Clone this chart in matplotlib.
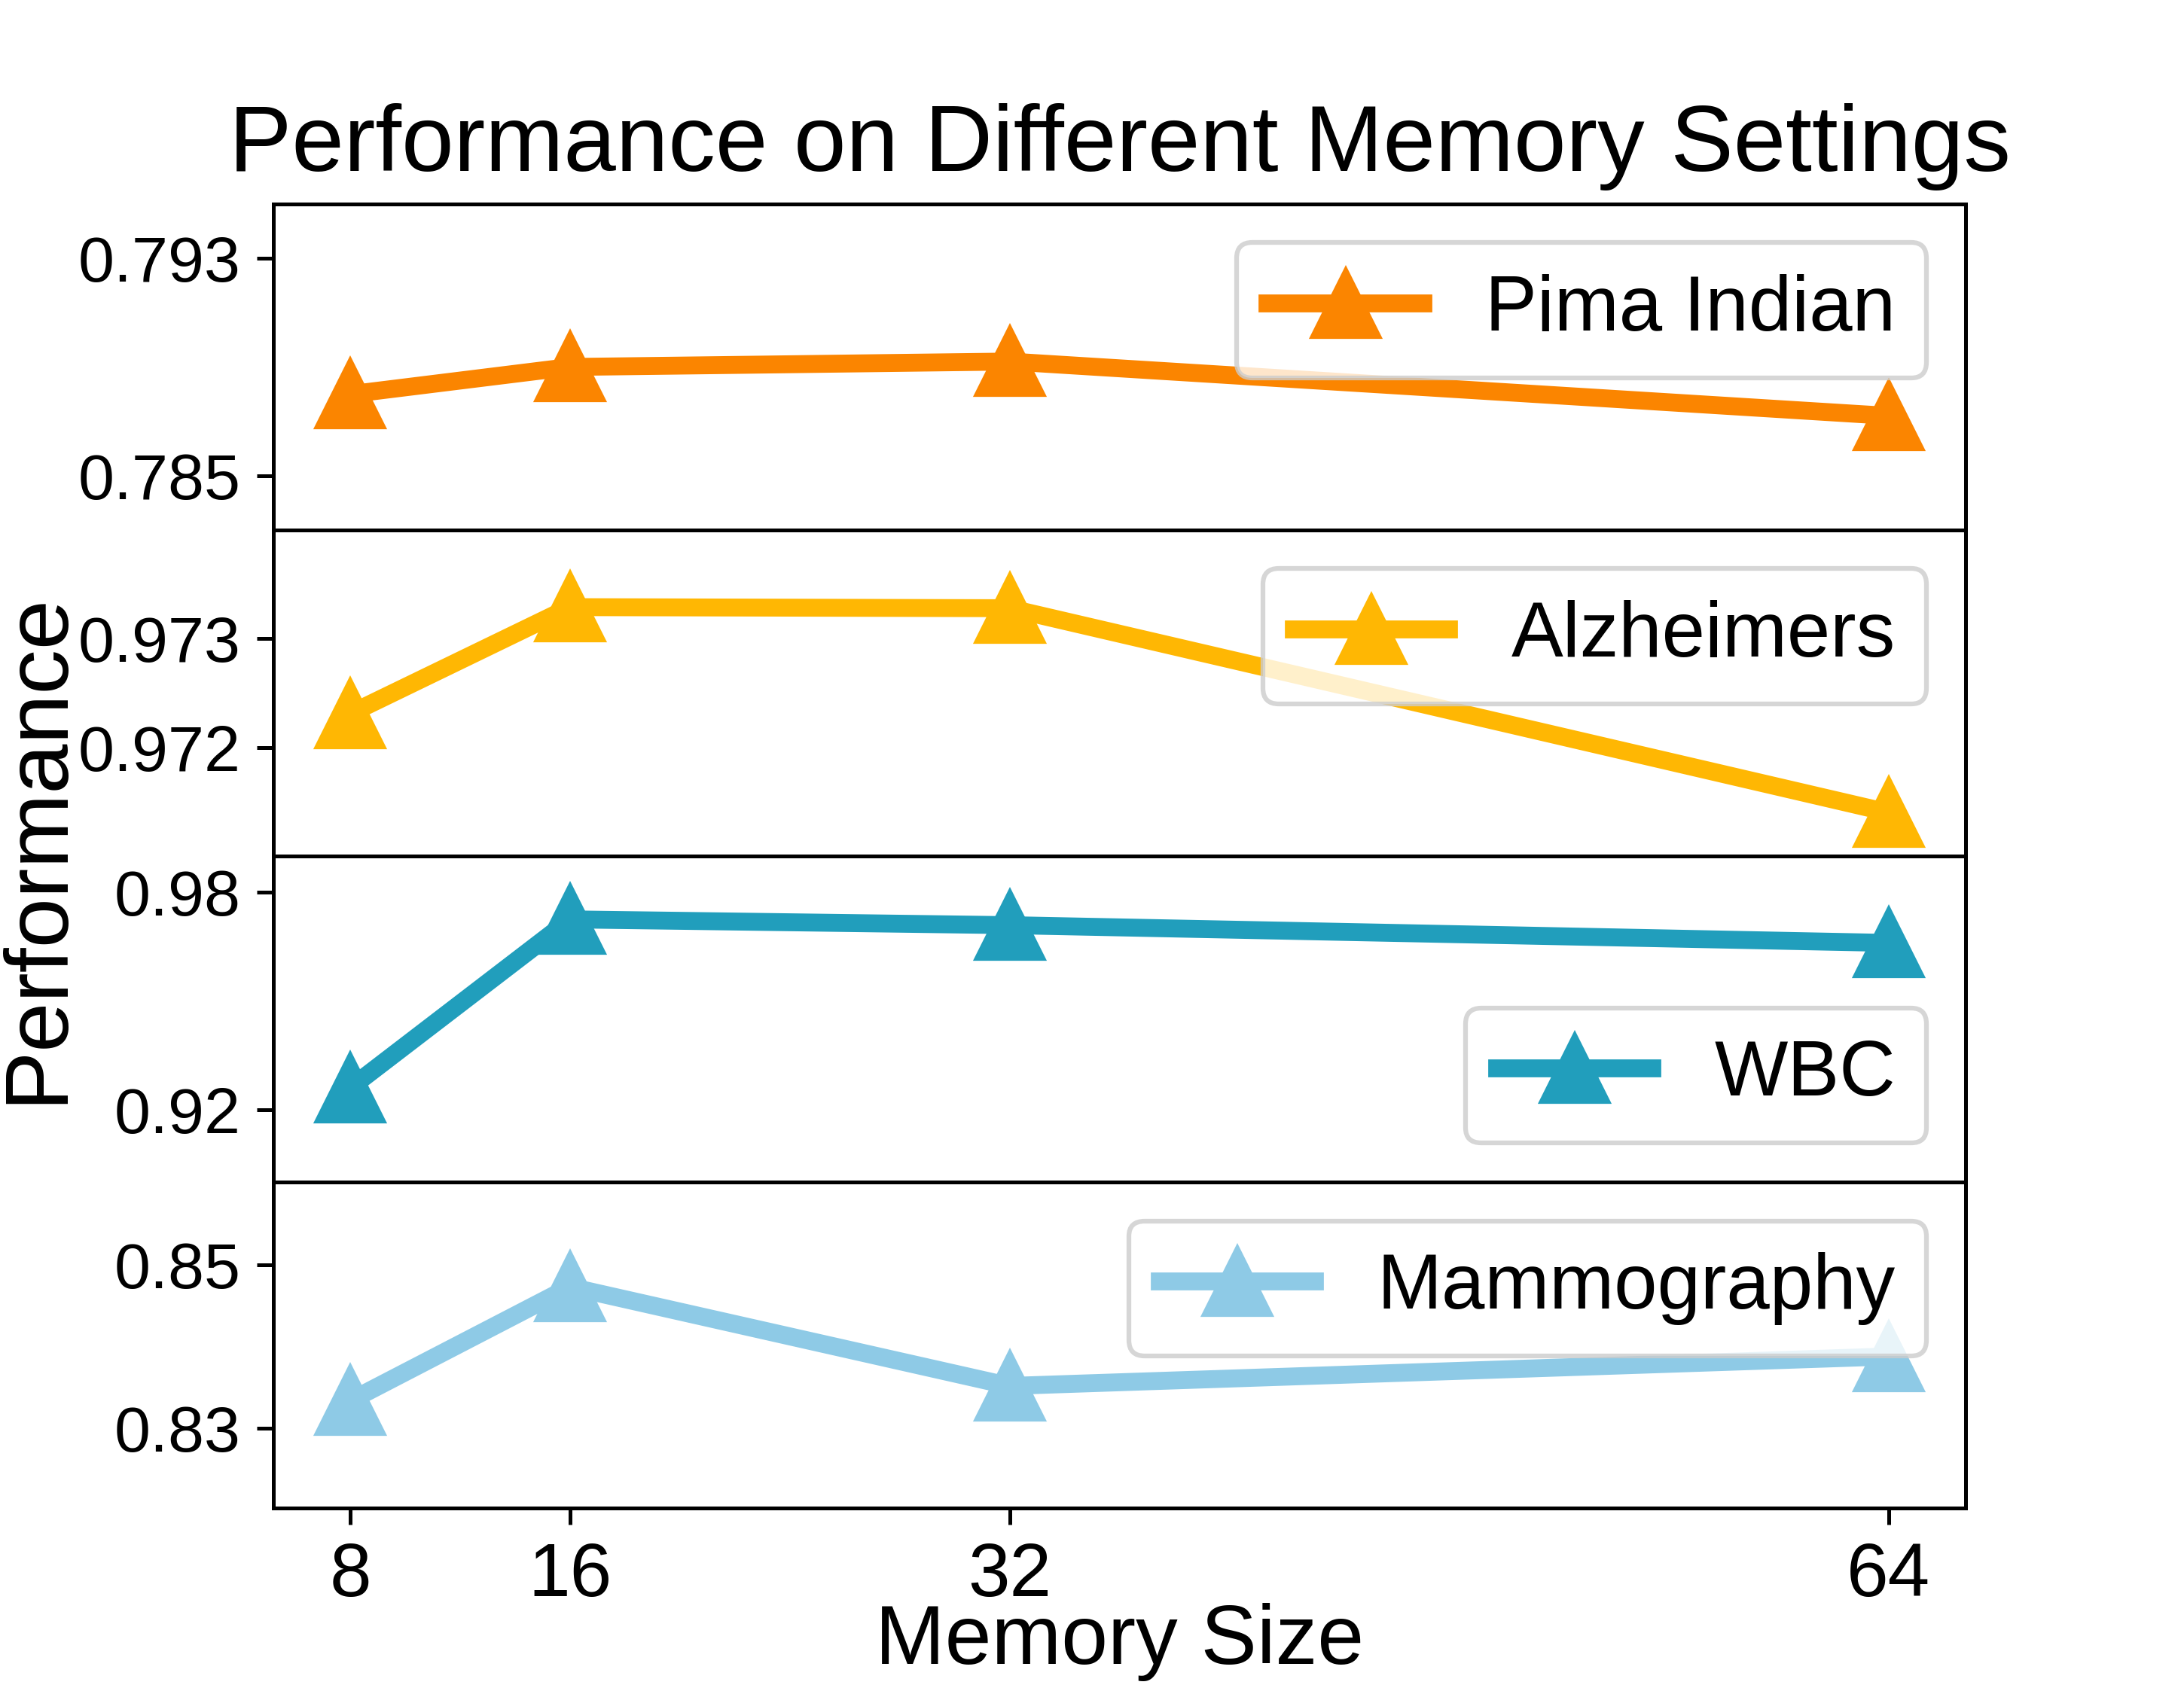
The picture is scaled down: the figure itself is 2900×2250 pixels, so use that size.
import matplotlib
matplotlib.use('Agg')
import matplotlib.pyplot as plt

plt.rcParams['font.family'] = ['Liberation Sans', 'DejaVu Sans']

memory = [8, 16, 32, 64]

datasets = ['Pima Indian', 'Alzheimers', 'WBC', 'Mammography']
pima = [0.7880, 0.7890, 0.7892, 0.7872]
alzheimers = [0.97231, 0.97329, 0.97328, 0.97140]
wbc = [0.9260, 0.9725, 0.9709, 0.9660]
mammography = [0.8334, 0.8473, 0.8352, 0.8388]

ylims = [(0.783, 0.795), (0.971, 0.974), (0.90, 0.99), (0.8203, 0.8601)]
yticks = [[0.785, 0.793], [0.972, 0.973], [0.92, 0.98], [0.83, 0.85]]
yticklabels = [['0.785', '0.793'], ['0.972', '0.973'], ['0.92', '0.98'], ['0.83', '0.85']]
colors = ['#fb8500', '#ffb703', '#219ebc', '#8ecae6']
legend_locs = ['upper right', 'upper right', 'lower right', 'upper right']

fig, axes = plt.subplots(4, 1, sharex=True, figsize=(2900/450, 2250/450), dpi=450)
fig.subplots_adjust(left=0.1252, right=0.900, top=0.8796, bottom=0.1098, hspace=0)

series = [pima, alzheimers, wbc, mammography]
for ax, name, vals, c, lim, ticks, labels, loc in zip(axes, datasets, series, colors,
                                                      ylims, yticks, yticklabels, legend_locs):
    ax.plot(memory, vals, color=c, marker='^', markersize=14, linewidth=3.8, label=name)
    ax.set_ylim(lim)
    ax.set_yticks(ticks)
    ax.set_yticklabels(labels)
    ax.tick_params(axis='y', labelsize=13.8)
    ax.legend(loc=loc, fontsize=16.5)

axes[-1].set_xticks(memory)
axes[-1].set_xticklabels([str(m) for m in memory])
axes[-1].tick_params(axis='x', labelsize=16)

axes[0].set_title('Performance on Different Memory Settings', fontsize=20, pad=7)
fig.text(0.5126, 0.0178, 'Memory Size', fontsize=17.8, ha='center', va='baseline')
fig.text(0.0365, 0.4997, 'Performance', fontsize=19, rotation=90, ha='right', va='center')

plt.savefig('out.png', dpi=450)
